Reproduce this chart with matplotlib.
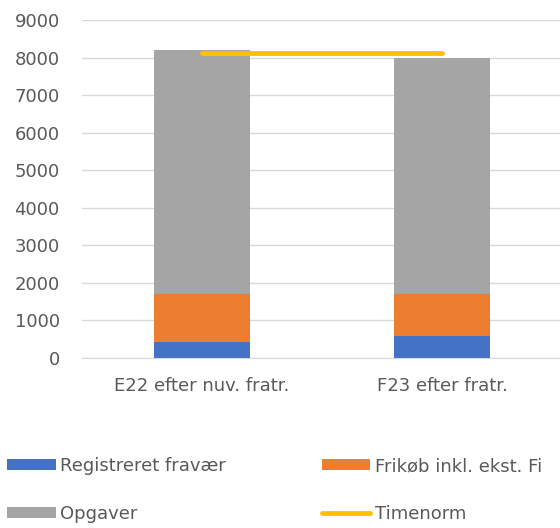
import matplotlib.pyplot as plt
import numpy as np

categories = ["E22 efter nuv. fratr.", "F23 efter fratr."]
fravaer = [425, 585]
frikoeb = [1275, 1115]
opgaver = [6500, 6275]
timenorm = [8115, 8115]

series_names = ["Registreret fravær", "Frikøb inkl. ekst. Fi", "Opgaver", "Timenorm"]
colors = ["#4472C4", "#ED7D31", "#A5A5A5", "#FFC000"]

plt.rcParams['font.family'] = ['DejaVu Sans']

fig = plt.figure(figsize=(5.6, 5.28), dpi=100)
ax = fig.add_axes([82 / 560, 1 - 358 / 528, 480 / 560, 338 / 528])

x = np.arange(len(categories))
bottom2 = np.array(fravaer) + np.array(frikoeb)

b1 = ax.bar(x, fravaer, width=0.4, color=colors[0], zorder=2)
b2 = ax.bar(x, frikoeb, width=0.4, bottom=fravaer, color=colors[1], zorder=2)
b3 = ax.bar(x, opgaver, width=0.4, bottom=bottom2, color=colors[2], zorder=2)
ln, = ax.plot(x, timenorm, color=colors[3], lw=3.5, solid_capstyle="round", zorder=3)

# axes look like excel
ax.set_xlim(-0.5, 1.5)
ax.set_ylim(0, 9000)
ax.set_yticks(np.arange(0, 9001, 1000))
ax.set_xticks(x)
ax.set_xticklabels(categories)
ax.grid(axis="y", color="#D9D9D9", lw=1, zorder=0)
for s in ["top", "right", "left"]:
    ax.spines[s].set_visible(False)
ax.spines["bottom"].set_color("#D9D9D9")
ax.tick_params(axis="y", length=0, pad=16, labelsize=13, labelcolor="#595959")
ax.tick_params(axis="x", length=0, pad=13.5, labelsize=13, labelcolor="#595959")

# legend, two rows
leg = fig.legend([b1, b3, b2, ln],
                 [series_names[0], series_names[2], series_names[1], series_names[3]],
                 ncol=2, loc="upper left", bbox_to_anchor=(7 / 560, 1 - 457 / 528),
                 frameon=False, borderpad=0, borderaxespad=0, fontsize=13,
                 handlelength=2.7, handleheight=0.5, handletextpad=0.25,
                 columnspacing=5.3, labelspacing=1.65, labelcolor="#595959")
for line in leg.get_lines():
    line.set_linewidth(3.5)
    line.set_solid_capstyle("round")

fig.savefig("out.png", dpi=100)
